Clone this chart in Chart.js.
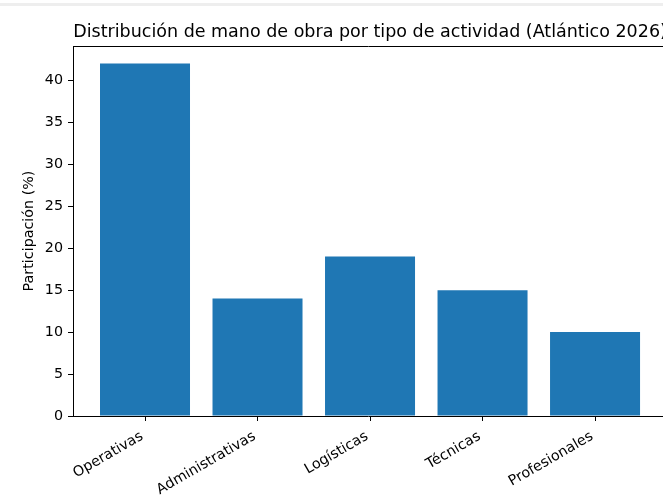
<!DOCTYPE html>
<html>
<head>
<meta charset="utf-8">
<script src="https://cdn.jsdelivr.net/npm/chart.js@4"></script>
<style>
  html, body { margin:0; padding:0; background:#fff; overflow:hidden; width:663px; height:496px; }
  #wrap { position:relative; width:663px; height:496px; }
  #band { position:absolute; left:0; top:3px; width:663px; height:3px; background:#eeeeee; z-index:2; }
</style>
</head>
<body>
<div id="band"></div>
<div id="wrap"><canvas id="c" width="663" height="496"></canvas></div>
<script>
const categories = ["Operativas", "Administrativas", "Logísticas", "Técnicas", "Profesionales"];
const values = [42, 14, 19, 15, 10];
const yTicks = [0, 5, 10, 15, 20, 25, 30, 35, 40];
const titleText = "Distribución de mano de obra por tipo de actividad (Atlántico 2026)";
const yLabel = "Participación (%)";

const FONT = "'DejaVu Sans', sans-serif";
const TICK_SIZE = 14.3;

const frame = {
  id: 'frame',
  afterDraw(chart) {
    const {ctx, chartArea: a} = chart;
    const xs = chart.scales.x;
    const axRight = xs.getPixelForValue(4.64);
    ctx.save();
    ctx.strokeStyle = '#000';
    ctx.lineWidth = 1;
    ctx.beginPath();
    ctx.moveTo(a.left, a.top + 0.5);
    ctx.lineTo(a.right + 5, a.top + 0.5);
    ctx.stroke();
    // title, centred over the full axes like matplotlib
    ctx.fillStyle = '#000';
    ctx.font = "17.5px " + FONT;
    ctx.textAlign = 'center';
    ctx.textBaseline = 'alphabetic';
    ctx.fillText(titleText, (a.left + axRight) / 2, a.top - 9);
    ctx.restore();
  }
};

new Chart(document.getElementById('c'), {
  type: 'bar',
  data: {
    datasets: [{
      data: values.map((v, i) => ({x: i, y: v})),
      backgroundColor: '#1f77b4',
      borderWidth: 0,
      categoryPercentage: 1,
      barPercentage: 0.8
    }]
  },
  options: {
    responsive: false,
    animation: false,
    layout: { padding: { left: 0, right: 0, top: 46, bottom: 0 } },
    plugins: {
      legend: { display: false },
      tooltip: { enabled: false },
      title: { display: false }
    },
    scales: {
      x: {
        type: 'linear',
        offset: false,
        min: -0.64,
        max: 4.604,
        afterBuildTicks: s => { s.ticks = categories.map((c, i) => ({value: i})); },
        afterFit: s => { s.height = 80; },
        ticks: {
          autoSkip: false,
          maxRotation: 30,
          minRotation: 30,
          padding: 7,
          labelOffset: -3,
          color: '#000',
          font: { family: FONT, size: TICK_SIZE },
          callback: v => categories[v]
        },
        grid: { display: true, offset: false, drawOnChartArea: false, drawTicks: true, tickLength: 5, color: '#000', lineWidth: 1 },
        border: { display: true, color: '#000', width: 1 }
      },
      y: {
        min: 0,
        max: 44.1,
        afterBuildTicks: s => { s.ticks = yTicks.map(v => ({value: v})); },
        afterFit: s => { s.width = 73; },
        ticks: {
          includeBounds: false,
          padding: 5,
          color: '#000',
          font: { family: FONT, size: TICK_SIZE }
        },
        title: {
          display: true,
          text: yLabel,
          color: '#000',
          font: { family: FONT, size: TICK_SIZE },
          padding: { top: 21, bottom: 0 }
        },
        grid: { display: true, drawOnChartArea: false, drawTicks: true, tickLength: 5, color: '#000', lineWidth: 1 },
        border: { display: true, color: '#000', width: 1 }
      }
    }
  },
  plugins: [frame]
});
</script>
</body>
</html>
